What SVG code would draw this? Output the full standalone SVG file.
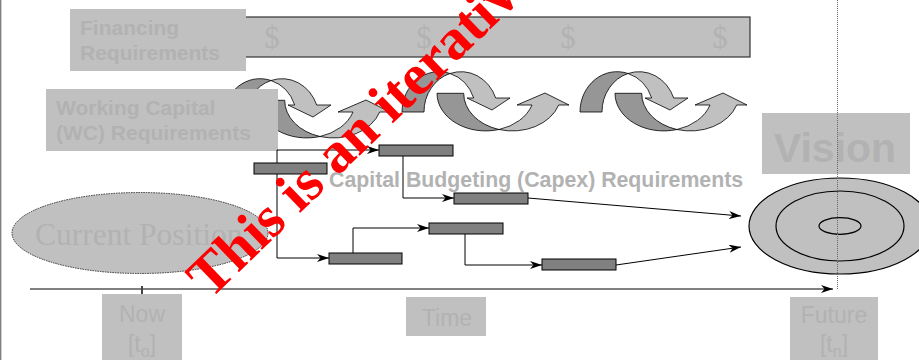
<svg xmlns="http://www.w3.org/2000/svg" xmlns:xlink="http://www.w3.org/1999/xlink" width="919" height="360" viewBox="0 0 919 360">
<style>
.box{fill:#c0c0c0}
.lbl{font-family:"Liberation Sans",Arial,sans-serif;font-weight:bold;font-size:21px;fill:#b2b2b2}
.lblr{font-family:"Liberation Sans",Arial,sans-serif;font-size:23px;fill:#b2b2b2}
.dk{fill:#969696;stroke:#000;stroke-width:0.8}
.lt{fill:#c0c0c0;stroke:#000;stroke-width:0.8}
.bar{fill:#808080;stroke:#000;stroke-width:1}
.con{fill:none;stroke:#000;stroke-width:1;marker-end:url(#ah)}
.dollar{font-family:"Liberation Serif","Times New Roman",serif;font-size:31px;fill:#b2b2b2}
</style>
<defs>
<marker id="ah" viewBox="0 0 12 8" refX="12" refY="4" markerWidth="12" markerHeight="8" orient="auto" markerUnits="userSpaceOnUse">
<path d="M0,0 L12,4 L0,8 L3.5,4 Z" fill="#000"/>
</marker>
<g id="cyc">
<path class="dk" d="M10,47 A37,40.3 0 0 1 58,8.5 A37,40.3 0 0 0 32,47 Z"/>
<path class="lt" d="M58,8.5 A37,40.3 0 0 1 103.7,33 L118,33 L100,45 L75,33 L81.7,33 A37,40.3 0 0 0 58,8.5 Z"/>
<path class="dk" d="M45,28.3 A48.7,37.6 0 0 0 107,64.5 A48.7,37.6 0 0 1 71.7,28.3 Z"/>
<path class="lt" d="M107,64.5 A48.7,37.6 0 0 0 166.7,40 L177,40 L153,28 L125,40 L140,40 A48.7,37.6 0 0 1 107,64.5 Z"/>
</g>
</defs>
<rect width="919" height="360" fill="#fff"/>
<line x1="0.7" y1="0" x2="0.7" y2="360" stroke="#808080" stroke-width="1.4"/>

<g id="financing-bar">
<rect x="200" y="17" width="550" height="40" fill="#c0c0c0" stroke="#333" stroke-width="1.2"/>
<text class="dollar" x="272" y="48" text-anchor="middle">$</text>
<text class="dollar" x="424" y="48" text-anchor="middle">$</text>
<text class="dollar" x="568" y="48" text-anchor="middle">$</text>
<text class="dollar" x="720" y="48" text-anchor="middle">$</text>
</g>
<g id="financing-label">
<rect class="box" x="70" y="9" width="176" height="62"/>
<text class="lbl" x="80" y="35">Financing</text>
<text class="lbl" x="80" y="60">Requirements</text>
</g>

<g id="wc-cycles">
<use xlink:href="#cyc" href="#cyc" transform="translate(213,72)"/>
<use xlink:href="#cyc" href="#cyc" transform="translate(392,65)"/>
<use xlink:href="#cyc" href="#cyc" transform="translate(570,65)"/>
</g>
<g id="wc-label">
<rect class="box" x="46" y="89" width="232" height="62"/>
<text class="lbl" x="56" y="115">Working Capital</text>
<text class="lbl" x="56" y="140">(WC) Requirements</text>
</g>

<g id="current-position">
<ellipse cx="140" cy="233" rx="128" ry="40.5" fill="#c0c0c0" stroke="#333" stroke-width="1" stroke-dasharray="1.5 1"/>
<text x="35" y="245" font-family="Liberation Serif,'Times New Roman',serif" font-size="31.5" fill="#b2b2b2">Current Position</text>
</g>

<g id="connectors">
<path class="con" d="M277,204 V150 H379"/>
<path class="con" d="M277,204 V258 H329"/>
<path class="con" d="M403,156 V198 H454"/>
<path class="con" d="M353,253 V228 H429"/>
<path class="con" d="M465,234 V265 H542"/>
<path class="con" d="M528,198 L741,216"/>
<path class="con" d="M616,265 L741,247"/>
<path class="con" d="M30,289 H833"/>
<line x1="142" y1="286" x2="142" y2="299" stroke="#444" stroke-width="2"/>
</g>

<g id="capex-bars">
<rect class="bar" x="254" y="163" width="73" height="11"/>
<rect class="bar" x="379" y="145" width="74" height="11"/>
<rect class="bar" x="454" y="193" width="74" height="11"/>
<rect class="bar" x="429" y="223" width="74" height="11"/>
<rect class="bar" x="329" y="253" width="73" height="11"/>
<rect class="bar" x="542" y="259" width="74" height="11"/>
</g>
<g id="capex-label">
<text class="lbl" x="329" y="187" style="font-size:21.3px">Capital Budgeting (Capex) Requirements</text>
</g>

<g id="vision-target">
<ellipse cx="840" cy="226" rx="91" ry="48" fill="#c0c0c0" stroke="#000" stroke-width="1.2"/>
<ellipse cx="840" cy="226" rx="64" ry="35" fill="#c0c0c0" stroke="#000" stroke-width="1.2"/>
<ellipse cx="840" cy="226" rx="21" ry="8.3" fill="#c0c0c0" stroke="#000" stroke-width="1.2"/>
</g>
<g id="vision-label">
<rect class="box" x="762" y="113" width="148" height="61"/>
<text x="835" y="162" text-anchor="middle" font-family="Liberation Sans,Arial,sans-serif" font-weight="bold" font-size="41" fill="#b2b2b2">Vision</text>
</g>
<line x1="837.5" y1="0" x2="837.5" y2="289" stroke="#666" stroke-width="1" stroke-dasharray="1 1"/>

<g id="now-label">
<rect class="box" x="102" y="294" width="80" height="70"/>
<text class="lblr" x="142" y="322" text-anchor="middle">Now</text>
<text class="lblr" x="142" y="352" text-anchor="middle">[t<tspan font-size="16" dy="5">o</tspan><tspan dy="-5">]</tspan></text>
</g>
<g id="time-label">
<rect class="box" x="406" y="297" width="80" height="39"/>
<text class="lblr" x="447" y="326" text-anchor="middle">Time</text>
</g>
<g id="future-label">
<rect class="box" x="790" y="297" width="88" height="67"/>
<text class="lblr" x="834" y="323" text-anchor="middle">Future</text>
<text class="lblr" x="834" y="352" text-anchor="middle">[t<tspan font-size="16" dy="5">n</tspan><tspan dy="-5">]</tspan></text>
</g>

<g id="watermark">
<text transform="translate(210,300) rotate(-44)" font-family="Liberation Serif,'Times New Roman',serif" font-weight="bold" font-size="58" fill="#ff0000">This is an iterative</text>
</g>
</svg>
